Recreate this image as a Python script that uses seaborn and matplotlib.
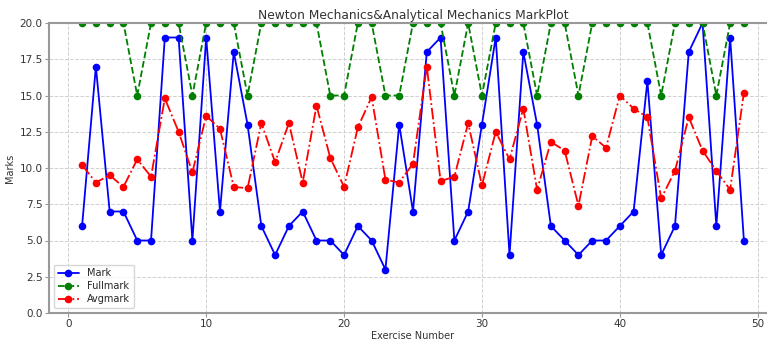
import numpy as np
import pandas as pd
import matplotlib
matplotlib.use("Agg")
import matplotlib.pyplot as plt
import seaborn as sns

# exercise numbers and marks
exercise = list(range(1, 50))
mark = [6, 17, 7, 7, 5, 5, 19, 19, 5, 19, 7, 18, 13, 6, 4, 6, 7, 5, 5, 4,
        6, 5, 3, 13, 7, 18, 19, 5, 7, 13, 19, 4, 18, 13, 6, 5, 4, 5, 5, 6,
        7, 16, 4, 6, 18, 20, 6, 19, 5]
fullmark = [20, 20, 20, 20, 15, 20, 20, 20, 15, 20, 20, 20, 15, 20, 20, 20, 20, 20, 15, 15,
            20, 20, 15, 15, 20, 20, 20, 15, 20, 15, 20, 20, 20, 15, 20, 20, 15, 20, 20, 20,
            20, 20, 15, 20, 20, 20, 15, 20, 20]
avgmark = [10.2, 9.0, 9.5, 8.7, 10.6, 9.4, 14.8, 12.5, 9.7, 13.6, 12.7, 8.7, 8.6, 13.1, 10.4,
           13.1, 9.0, 14.3, 10.7, 8.7, 12.8, 14.9, 9.2, 9.0, 10.3, 17.0, 9.1, 9.4, 13.1, 8.8,
           12.5, 10.6, 14.1, 8.5, 11.8, 11.2, 7.4, 12.2, 11.4, 15.0, 14.1, 13.5, 7.9, 9.8, 13.5,
           11.2, 9.8, 8.5, 15.2]

df = pd.DataFrame({"Exercise": exercise, "Mark": mark,
                   "Fullmark": fullmark, "Avgmark": avgmark})

sns.set_style("whitegrid")
plt.rcParams["font.family"] = ["DejaVu Sans"]

fig = plt.figure(figsize=(7.67, 3.42), dpi=100)
# axes run slightly past the right edge, like the cropped original
ax = fig.add_axes([49 / 767, 29 / 342, 728 / 767, 290 / 342])

line_kw = dict(marker="o", markersize=5.5, markeredgewidth=0, linewidth=1.3)
sns.lineplot(data=df, x="Exercise", y="Mark", ax=ax, color="b",
             linestyle="-", label="Mark", **line_kw)
sns.lineplot(data=df, x="Exercise", y="Fullmark", ax=ax, color="g",
             linestyle="--", label="Fullmark", **line_kw)
sns.lineplot(data=df, x="Exercise", y="Avgmark", ax=ax, color="r",
             linestyle="-.", label="Avgmark", **line_kw)

ax.set_xlim(-1.4, 51.4)
ax.set_ylim(0, 20)
ax.set_yticks(np.arange(0, 20.1, 2.5))
ax.set_xticks([0, 10, 20, 30, 40, 50])
ax.grid(True, linestyle="--", color="#d0d0d0", linewidth=0.7)
for s in ax.spines.values():
    s.set_color("#999999")
    s.set_linewidth(1.5)
ax.tick_params(axis="both", labelsize=7.5, colors="#333333", length=3,
               width=0.8, pad=1.5, color="#999999", left=True, bottom=True)

ax.set_title("Newton Mechanics&Analytical Mechanics MarkPlot", fontsize=8.8,
             color="#333333", pad=3)
ax.set_xlabel("Exercise Number", fontsize=7, color="#333333", labelpad=1)
ax.set_ylabel("Marks", fontsize=7, color="#333333", labelpad=3)
ax.legend(loc="lower left", fontsize=7, frameon=True, borderpad=0.4,
          labelspacing=0.3, handlelength=2.2)

fig.savefig("out.png", dpi=100)
